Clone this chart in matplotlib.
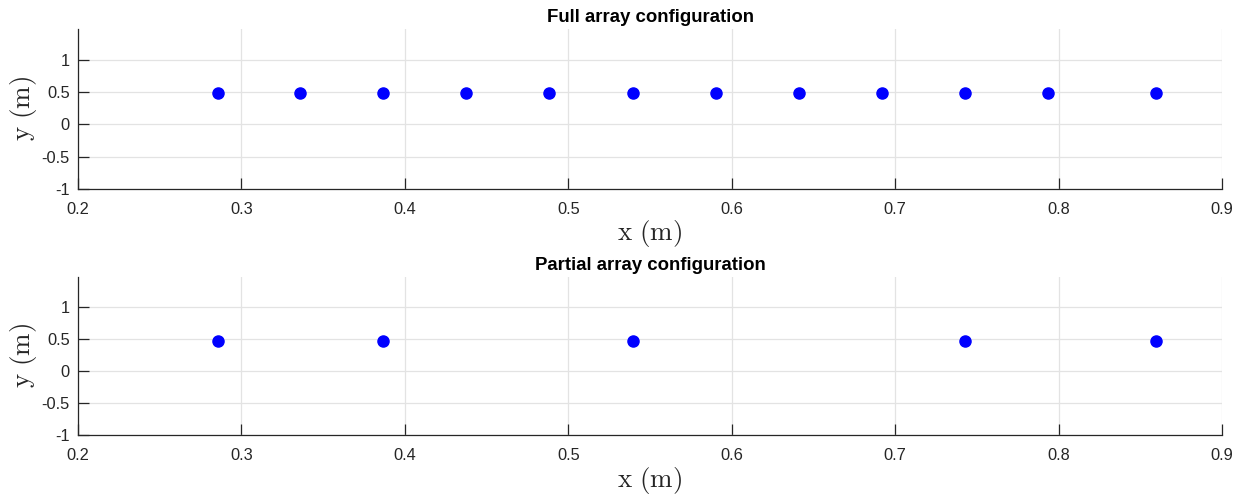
import matplotlib
matplotlib.use("Agg")
import matplotlib.pyplot as plt

full_x = [0.2857, 0.3359, 0.3867, 0.4375, 0.4883, 0.5397, 0.5905, 0.6413, 0.6920, 0.7429, 0.7936, 0.8597]
full_y = [0.48] * len(full_x)
part_x = [0.2857, 0.3867, 0.5397, 0.7429, 0.8597]
part_y = [0.48] * len(part_x)
titles = ["Full array configuration", "Partial array configuration"]
xticks = [0.2, 0.3, 0.4, 0.5, 0.6, 0.7, 0.8, 0.9]
yticks = [-1, -0.5, 0, 0.5, 1]
ytick_labels = ["-1", "-0.5", "0", "0.5", "1"]
xtick_labels = ["0.2", "0.3", "0.4", "0.5", "0.6", "0.7", "0.8", "0.9"]

plt.rcParams['font.family'] = ['Liberation Sans', 'DejaVu Sans']
plt.rcParams['mathtext.fontset'] = 'cm'

fig = plt.figure(figsize=(12.42, 4.94), dpi=100)
positions = [[0.0628, 0.618, 0.9211, 0.3233], [0.0628, 0.1194, 0.9211, 0.3205]]
data = [(full_x, full_y), (part_x, part_y)]
dark = '#262626'

for pos, (xs, ys), title in zip(positions, data, titles):
    ax = fig.add_axes(pos)
    ax.plot(xs, ys, 'o', color='#0000ff', markersize=8, linestyle='none', zorder=3)
    ax.set_xlim(0.2, 0.9)
    ax.set_ylim(-1, 1.48)
    ax.set_xticks(xticks)
    ax.set_xticklabels(xtick_labels)
    ax.set_yticks(yticks)
    ax.set_yticklabels(ytick_labels)
    ax.grid(True, color='#e3e3e3', linewidth=0.9)
    ax.set_axisbelow(True)
    for s in ['top', 'right']:
        ax.spines[s].set_visible(False)
    for s in ['left', 'bottom']:
        ax.spines[s].set_color(dark)
        ax.spines[s].set_linewidth(0.9)
    ax.tick_params(direction='in', length=8, width=0.9, color=dark,
                   labelcolor=dark, labelsize=11.8)
    ax.tick_params(axis='x', pad=9.5)
    ax.tick_params(axis='y', pad=6)
    ax.set_xlabel(r'$\mathrm{x\ (m)}$', fontsize=19.5, color=dark, labelpad=1)
    ax.set_ylabel(r'$\mathrm{y\ (m)}$', fontsize=19.5, color=dark, labelpad=2)
    ax.set_title(title, fontsize=13.4, fontweight='bold', color='black', pad=5)

fig.savefig('out.png', dpi=100)
